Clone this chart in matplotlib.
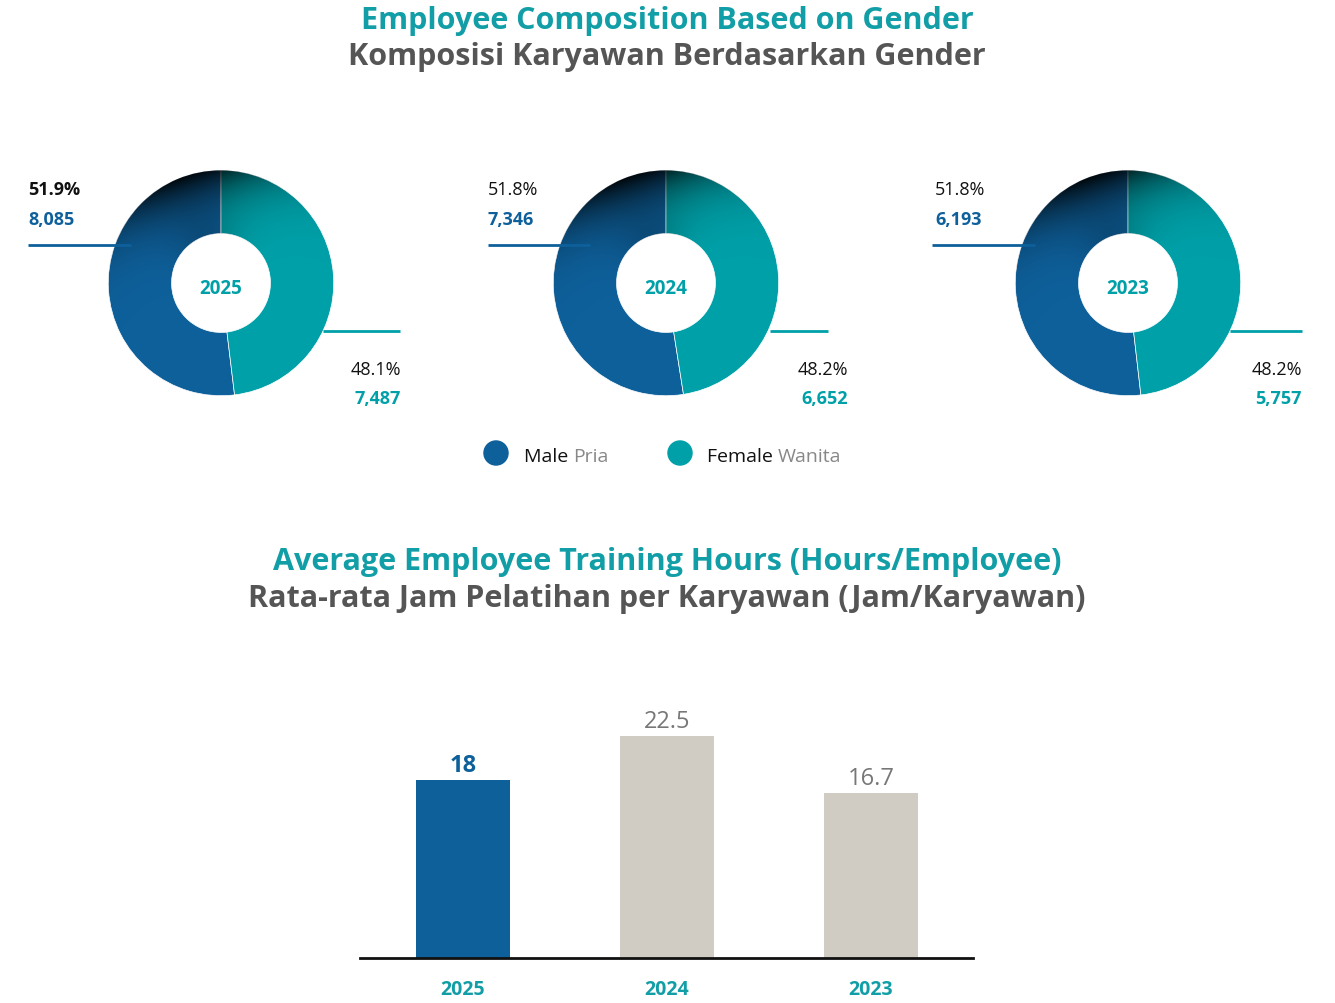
import numpy as np
import matplotlib
matplotlib.use('Agg')
import matplotlib.pyplot as plt
from matplotlib.patches import Wedge

plt.rcParams['font.family'] = ['Open Sans', 'DejaVu Sans']

# data
years = ['2025', '2024', '2023']
male = [8085, 7346, 6193]
female = [7487, 6652, 5757]
male_pct = ['51.9%', '51.8%', '51.8%']
female_pct = ['48.1%', '48.2%', '48.2%']
train_years = ['2025', '2024', '2023']
train_hours = [18, 22.5, 16.7]

MALE = '#0e609b'
FEMALE = '#00a0a8'
TEAL = '#129ea6'
GREY_T = '#555555'
BAR_GREY = '#d0ccc4'

W, H = 1335, 1004
fig = plt.figure(figsize=(W / 100, H / 100), dpi=100)
renderer = fig.canvas.get_renderer()

# overlay axes in pixel coords (drawn on top of donuts)
ov = fig.add_axes([0, 0, 1, 1])
ov.set_xlim(0, W)
ov.set_ylim(H, 0)
ov.axis('off')
ov.set_zorder(10)

ov.text(667, 21, 'Employee Composition Based on Gender', ha='center', va='center',
        fontsize=22, fontweight='bold', color=TEAL)
ov.text(667, 57, 'Komposisi Karyawan Berdasarkan Gender', ha='center', va='center',
        fontsize=22, fontweight='bold', color=GREY_T)
ov.text(667, 562, 'Average Employee Training Hours (Hours/Employee)', ha='center', va='center',
        fontsize=22, fontweight='bold', color=TEAL)
ov.text(667, 599, 'Rata-rata Jam Pelatihan per Karyawan (Jam/Karyawan)', ha='center', va='center',
        fontsize=22, fontweight='bold', color=GREY_T)

# donut layout (pixel positions)
centers = [221, 666, 1128]
cy = 284
R = 115
left_x = [28, 488, 935]
male_line = [(28, 131), (488, 590), (932, 1035)]
female_line = [(323, 400), (770, 828), (1230, 1302)]
right_x = [401, 848, 1302]

yy, xx = np.mgrid[-1.05:1.05:300j, -1.05:1.05:300j]
rr = np.hypot(xx, yy)
th = np.degrees(np.arctan2(yy, xx)) % 360

for i, cx in enumerate(centers):
    ax = fig.add_axes([(cx - R) / W, 1 - (cy + R) / H, 2 * R / W, 2 * R / H])
    ax.pie([male[i], female[i]], colors=[MALE, FEMALE], startangle=90,
           counterclock=True, radius=0.98,
           wedgeprops=dict(width=0.55, edgecolor='white', linewidth=0.5))
    # dark shading along the top-left rim
    ang = np.exp(-((th - 108) / 42) ** 2)
    rad = np.clip((rr - 0.43) / 0.55, 0, 1) ** 2.5
    alpha = np.clip(0.92 * ang * (0.25 + 0.75 * rad), 0, 1)
    img = np.zeros(rr.shape + (4,))
    img[..., 3] = alpha
    im = ax.imshow(img, extent=(-1.05, 1.05, -1.05, 1.05), origin='lower', zorder=3)
    ring = Wedge((0, 0), 0.98, 0, 360, width=0.55, transform=ax.transData)
    im.set_clip_path(ring)
    ax.set_xlim(-1, 1)
    ax.set_ylim(-1, 1)
    ax.set_aspect('equal')
    ax.axis('off')
    ax.text(0, -0.04, years[i], ha='center', va='center', fontsize=13.5, fontweight='bold',
            color=FEMALE, zorder=5)

    ov.plot(male_line[i], [246, 246], color=MALE, lw=2, solid_capstyle='butt', zorder=6)
    ov.plot(female_line[i], [332, 332], color=FEMALE, lw=2, solid_capstyle='butt', zorder=6)
    ov.text(left_x[i], 190, male_pct[i], ha='left', va='center', fontsize=13,
            fontweight='bold' if i == 0 else 'normal', color='#111111')
    ov.text(left_x[i], 220, f'{male[i]:,}', ha='left', va='center', fontsize=13,
            fontweight='bold', color=MALE)
    ov.text(right_x[i], 370, female_pct[i], ha='right', va='center', fontsize=13,
            color='#111111')
    ov.text(right_x[i], 399, f'{female[i]:,}', ha='right', va='center', fontsize=13,
            fontweight='bold', color=FEMALE)

# legend
ov.scatter([496, 680], [454, 454], s=300, color=[MALE, FEMALE], zorder=6)
for x0, en, idn in [(524, 'Male', 'Pria'), (707, 'Female', 'Wanita')]:
    t = ov.text(x0, 457, en + ' ', ha='left', va='center', fontsize=14, color='#111111')
    bb = t.get_window_extent(renderer=renderer)
    ov.text(x0 + bb.width, 457, idn, ha='left', va='center', fontsize=14, color='#888888')

# bar chart
bx0, bx1, by0, by1 = 360, 973, 712, 959
bax = fig.add_axes([bx0 / W, 1 - by1 / H, (bx1 - bx0) / W, (by1 - by0) / H])
xpos = np.arange(len(train_hours))
bar_cols = [MALE, BAR_GREY, BAR_GREY]
bax.bar(xpos, train_hours, width=0.46, color=bar_cols)
bax.set_xlim(-0.505, 2.5)
bax.set_ylim(0, 25)
for s in ['top', 'right', 'left']:
    bax.spines[s].set_visible(False)
bax.spines['bottom'].set_linewidth(2)
bax.spines['bottom'].set_color('#111111')
bax.set_yticks([])
bax.set_xticks(xpos)
bax.set_xticklabels(train_years, fontsize=14, fontweight='bold', color=TEAL)
bax.tick_params(axis='x', length=0, pad=15)
for x, v, c in zip(xpos, train_hours, bar_cols):
    lab = f'{v:g}'
    if c == MALE:
        bax.text(x, v + 0.3, lab, ha='center', va='bottom', fontsize=17,
                 fontweight='bold', color=MALE)
    else:
        bax.text(x, v + 0.3, lab, ha='center', va='bottom', fontsize=17, color='#777777')

fig.savefig('out.png', dpi=100)
